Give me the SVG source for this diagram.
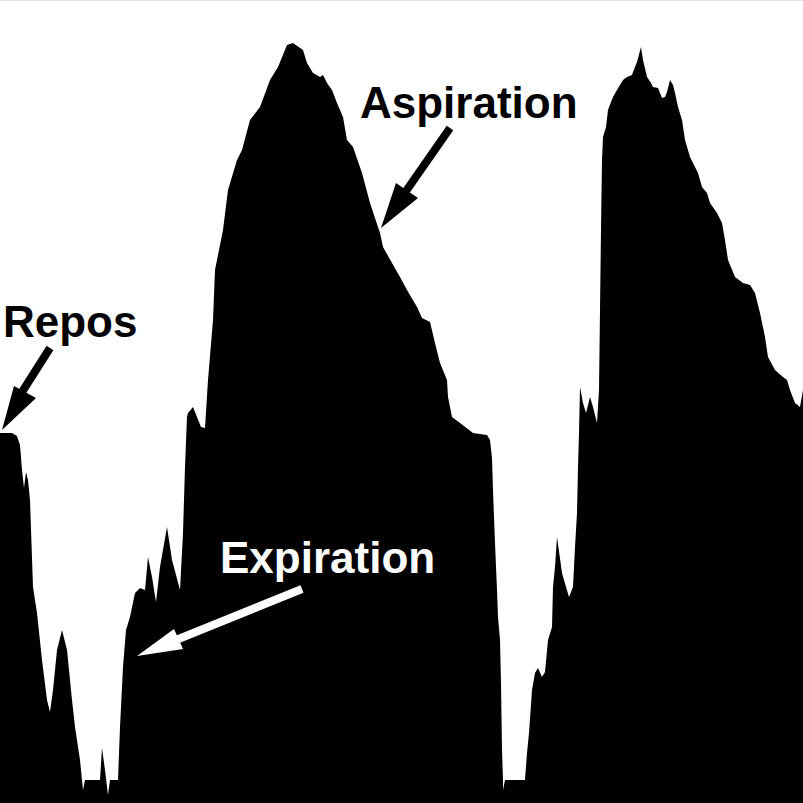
<svg xmlns="http://www.w3.org/2000/svg" width="803" height="803" viewBox="0 0 803 803">
<style>
.lbl{font-family:"Liberation Sans",Arial,sans-serif;font-weight:bold;font-size:44px}
.dark{fill:#000}
.light{fill:#fff}
</style>
<rect x="0" y="0" width="803" height="803" fill="#fff"/>
<rect x="0" y="0" width="803" height="1" fill="#e2e2da"/>
<g id="waveform">
<polygon class="dark" points="0,803 0,433 12,433 17,436 20,445 22,470 24,488 26,472 28,480 30,500 33,587 37,613 42,660 47,700 50,712 53,690 57,650 62,630 67,650 72,700 75,727 80,760 82,780 83,790 85,780 100,780 102,748 105,770 108,795 110,780 118,780 120,727 123,667 126,630 130,617 135,593 140,588 145,590 148,557 152,577 156,602 160,567 167,527 172,560 180,590 183,533 185,467 187,417 188,413 193,407 197,417 201,427 205,428 208,380 213,320 215,270 223,230 228,190 237,160 242,150 250,120 260,107 270,80 278,67 287,45 293,43 303,50 307,63 313,73 320,77 323,75 327,83 332,90 337,103 343,117 347,140 353,147 362,173 370,203 380,233 383,247 392,263 400,277 407,290 417,307 422,318 430,322 435,343 440,363 447,380 448,397 452,417 460,423 473,433 487,435 490,440 492,458 493,490 495,543 497,590 498,617 500,640 501,683 502,750 503,780 503,790 505,780 525,780 527,753 529,733 532,690 535,673 538,668 542,677 545,672 548,640 552,627 553,587 555,567 557,537 562,573 566,587 569,597 573,587 575,547 577,513 578,467 579,433 580,387 583,403 586,413 590,397 593,407 597,423 599,390 601,230 602,160 603,137 606,127 608,110 611,102 613,97 617,90 620,85 623,80 627,77 632,75 633,72 637,62 641,47 643,60 647,77 651,83 653,87 658,88 662,98 665,97 667,92 670,80 673,85 675,93 678,107 682,120 685,140 690,157 693,163 698,173 702,187 707,193 710,203 717,213 722,223 725,240 728,260 735,277 743,283 750,285 755,293 760,313 765,337 768,357 775,370 783,377 787,380 790,390 795,403 800,407 803,390 803,803"/>
</g>
<g id="connectors">
<g id="arrow-repos">
<line x1="50" y1="348" x2="22" y2="392" stroke="#000" stroke-width="8"/>
<polygon class="dark" points="2,430 14,386 36,398"/>
</g>
<g id="arrow-aspiration">
<line x1="450" y1="128" x2="404" y2="194" stroke="#000" stroke-width="8"/>
<polygon class="dark" points="381,228 396,183 418,198"/>
</g>
<g id="arrow-expiration">
<line x1="302" y1="589" x2="176" y2="640" stroke="#fff" stroke-width="8"/>
<polygon class="light" points="137,656 174,629 183,649"/>
</g>
</g>
<g id="label-aspiration"><text class="lbl dark" x="360" y="118">Aspiration</text></g>
<g id="label-repos"><text class="lbl dark" x="3" y="337">Repos</text></g>
<g id="label-expiration"><text class="lbl light" x="220" y="573">Expiration</text></g>
</svg>
